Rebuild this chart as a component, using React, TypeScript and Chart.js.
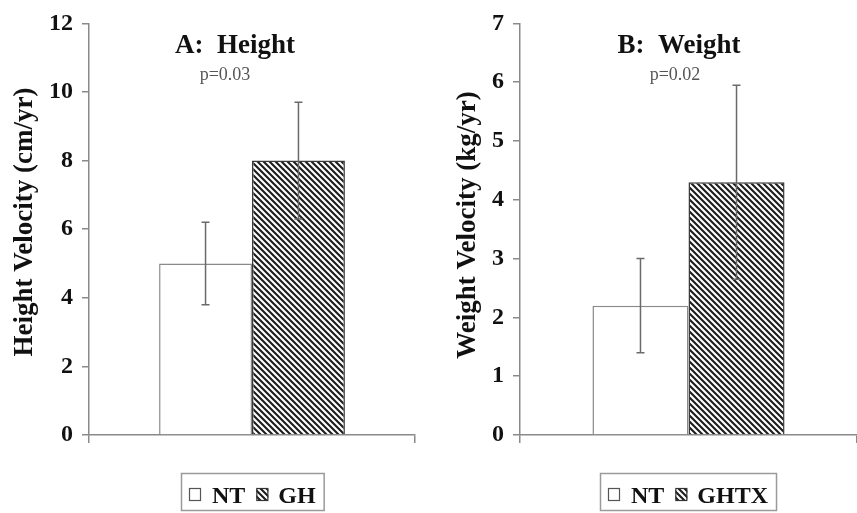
import React, { useEffect, useRef } from "react";
import { Chart, registerables } from "chart.js";

Chart.register(...registerables);

// ---------------- DATA ----------------
const categories = [""];

const panelASeries = ["NT", "GH"];
const panelAMeans = [5.0, 8.0];
const panelAErrors = [1.2, 1.7];
const panelATicks = [0, 2, 4, 6, 8, 10, 12];
const panelATitle = "A:  Height";
const panelAPValue = "p=0.03";
const panelAYLabel = "Height Velocity (cm/yr)";

const panelBSeries = ["NT", "GHTX"];
const panelBMeans = [2.2, 4.3];
const panelBErrors = [0.8, 1.65];
const panelBTicks = [0, 1, 2, 3, 4, 5, 6, 7];
const panelBTitle = "B:  Weight";
const panelBPValue = "p=0.02";
const panelBYLabel = "Weight Velocity (kg/yr)";

// ---------------- STYLE / LAYOUT ----------------
const SERIF = "'Liberation Serif', 'Times New Roman', serif";
const AXIS_GREY = "#8a8a8a";
const CANVAS_H = 513;

function makeHatch(): CanvasPattern | string {
  const p = 6;
  const c = document.createElement("canvas");
  c.width = p;
  c.height = p;
  const g = c.getContext("2d");
  if (!g) return "#555";
  g.fillStyle = "#ffffff";
  g.fillRect(0, 0, p, p);
  g.strokeStyle = "#1e1e1e";
  g.lineWidth = 2.1;
  g.beginPath();
  for (let k = -1; k <= 1; k++) {
    g.moveTo(k * p - 1, -1);
    g.lineTo(k * p + p + 1, p + 1);
  }
  g.stroke();
  const pat = g.createPattern(c, "repeat");
  return pat || "#555";
}

interface Panel {
  series: string[];
  means: number[];
  errors: number[];
  ticks: number[];
  title: string;
  pValue: string;
  yLabel: string;
  width: number;
  yWidth: number;
  padRight: number;
  yLabelX: number;
  yLabelY: number;
  titleX: number;
  pX: number;
}

function buildChart(canvas: HTMLCanvasElement, panel: Panel): Chart {
  const hatch = makeHatch();

  const errorBars = {
    id: "errorBars",
    afterDatasetsDraw(chart: any) {
      const ctx = chart.ctx;
      const y = chart.scales.y;
      ctx.save();
      ctx.strokeStyle = "#6a6a6a";
      ctx.lineWidth = 1.5;
      panel.means.forEach((m, i) => {
        const bar = chart.getDatasetMeta(i).data[0];
        if (!bar) return;
        const x = bar.x;
        const yHi = y.getPixelForValue(m + panel.errors[i]);
        const yLo = y.getPixelForValue(m - panel.errors[i]);
        ctx.beginPath();
        ctx.moveTo(x, yHi);
        ctx.lineTo(x, yLo);
        ctx.moveTo(x - 4, yHi);
        ctx.lineTo(x + 4, yHi);
        ctx.moveTo(x - 4, yLo);
        ctx.lineTo(x + 4, yLo);
        ctx.stroke();
      });
      ctx.restore();
    },
  };

  const annotations = {
    id: "annotations",
    afterDraw(chart: any) {
      const ctx = chart.ctx;
      const area = chart.chartArea;
      ctx.save();
      // y axis label (rotated)
      ctx.save();
      ctx.translate(panel.yLabelX, panel.yLabelY);
      ctx.rotate(-Math.PI / 2);
      ctx.fillStyle = "#111";
      ctx.font = `bold 27px ${SERIF}`;
      ctx.textAlign = "center";
      ctx.textBaseline = "middle";
      ctx.fillText(panel.yLabel, 0, 0);
      ctx.restore();

      // panel title
      ctx.fillStyle = "#111";
      ctx.font = `bold 27px ${SERIF}`;
      ctx.textAlign = "center";
      ctx.textBaseline = "alphabetic";
      ctx.fillText(panel.title, panel.titleX, 53);
      // p value
      ctx.fillStyle = "#555";
      ctx.font = `18px ${SERIF}`;
      ctx.fillText(panel.pValue, panel.pX, 80);

      // legend
      ctx.font = `bold 24px ${SERIF}`;
      const w0 = ctx.measureText(panel.series[0]).width;
      const w1 = ctx.measureText(panel.series[1]).width;
      const total = 8 + 12 + 11 + w0 + 11 + 12 + 10 + w1 + 8;
      const cx = (area.left + area.right) / 2;
      const left = Math.round(cx - total / 2);
      const top = 473;
      const bottom = 510;
      ctx.strokeStyle = "#9a9a9a";
      ctx.lineWidth = 1.5;
      ctx.strokeRect(left + 0.5, top + 0.5, total, bottom - top);
      let x = left + 8;
      // open square
      ctx.strokeStyle = "#555";
      ctx.lineWidth = 1.2;
      ctx.fillStyle = "#fff";
      ctx.fillRect(x, 488, 12, 13);
      ctx.strokeRect(x + 0.5, 488.5, 11, 12);
      x += 12 + 11;
      ctx.fillStyle = "#111";
      ctx.textAlign = "left";
      ctx.fillText(panel.series[0], x, 503);
      x += w0 + 11;
      // hatched square
      ctx.fillStyle = hatch as any;
      ctx.fillRect(x, 488, 12, 13);
      ctx.strokeStyle = "#333";
      ctx.strokeRect(x + 0.5, 488.5, 11, 12);
      x += 12 + 10;
      ctx.fillStyle = "#111";
      ctx.fillText(panel.series[1], x, 503);
      ctx.restore();
    },
  };

  const maxV = panel.ticks[panel.ticks.length - 1];

  return new Chart(canvas, {
    type: "bar",
    data: {
      labels: categories,
      datasets: panel.series.map((name, i) => ({
        label: name,
        data: [panel.means[i]],
        backgroundColor: i === 0 ? "#ffffff" : (hatch as any),
        borderColor: i === 0 ? "#8a8a8a" : "#3a3a3a",
        borderWidth: 1.5,
        borderSkipped: "bottom",
        barPercentage: 1,
        categoryPercentage: 0.57,
      })),
    },
    options: {
      animation: false,
      responsive: false,
      maintainAspectRatio: false,
      events: [],
      layout: { padding: { top: 20, right: panel.padRight, left: 0, bottom: 0 } },
      plugins: {
        legend: { display: false },
        title: { display: false },
        tooltip: { enabled: false },
      },
      scales: {
        x: {
          type: "category",
          grid: {
            display: true,
            drawOnChartArea: false,
            drawTicks: true,
            tickLength: 8,
            color: AXIS_GREY,
            lineWidth: 1.5,
            offset: true,
          },
          border: { display: true, color: AXIS_GREY, width: 1.5 },
          ticks: { display: false },
          afterFit: (s: any) => {
            s.height = CANVAS_H - 435;
          },
        },
        y: {
          type: "linear",
          min: 0,
          max: maxV,
          afterBuildTicks: (s: any) => {
            s.ticks = panel.ticks.map((v) => ({ value: v }));
          },
          ticks: {
            color: "#111",
            padding: 9,
            font: { family: SERIF, size: 24, weight: "bold" },
          },
          grid: {
            display: true,
            drawOnChartArea: false,
            drawTicks: true,
            tickLength: 7,
            color: AXIS_GREY,
            lineWidth: 1.5,
          },
          border: { display: true, color: AXIS_GREY, width: 1.5 },
          afterFit: (s: any) => {
            s.width = panel.yWidth;
          },
        },
      },
    },
    plugins: [errorBars, annotations],
  } as any);
}

const panelA: Panel = {
  series: panelASeries,
  means: panelAMeans,
  errors: panelAErrors,
  ticks: panelATicks,
  title: panelATitle,
  pValue: panelAPValue,
  yLabel: panelAYLabel,
  width: 430,
  yWidth: 89,
  padRight: 15,
  yLabelX: 25,
  yLabelY: 222,
  titleX: 235,
  pX: 225,
};

const panelB: Panel = {
  series: panelBSeries,
  means: panelBMeans,
  errors: panelBErrors,
  ticks: panelBTicks,
  title: panelBTitle,
  pValue: panelBPValue,
  yLabel: panelBYLabel,
  width: 427,
  yWidth: 90,
  padRight: 0,
  yLabelX: 38,
  yLabelY: 225,
  titleX: 249,
  pX: 245,
};

function PanelChart({ panel, left }: { panel: Panel; left: number }) {
  const ref = useRef<HTMLCanvasElement | null>(null);
  useEffect(() => {
    if (!ref.current) return;
    const chart = buildChart(ref.current, panel);
    return () => chart.destroy();
  }, [panel]);
  return (
    <canvas
      ref={ref}
      width={panel.width}
      height={CANVAS_H}
      style={{
        position: "absolute",
        left,
        top: 0,
        width: panel.width,
        height: CANVAS_H,
        display: "block",
      }}
    />
  );
}

export default function App() {
  return (
    <div
      style={{
        position: "fixed",
        left: 0,
        top: 0,
        width: 857,
        height: CANVAS_H,
        background: "#ffffff",
        overflow: "hidden",
      }}
    >
      <PanelChart panel={panelA} left={0} />
      <PanelChart panel={panelB} left={430} />
    </div>
  );
}
